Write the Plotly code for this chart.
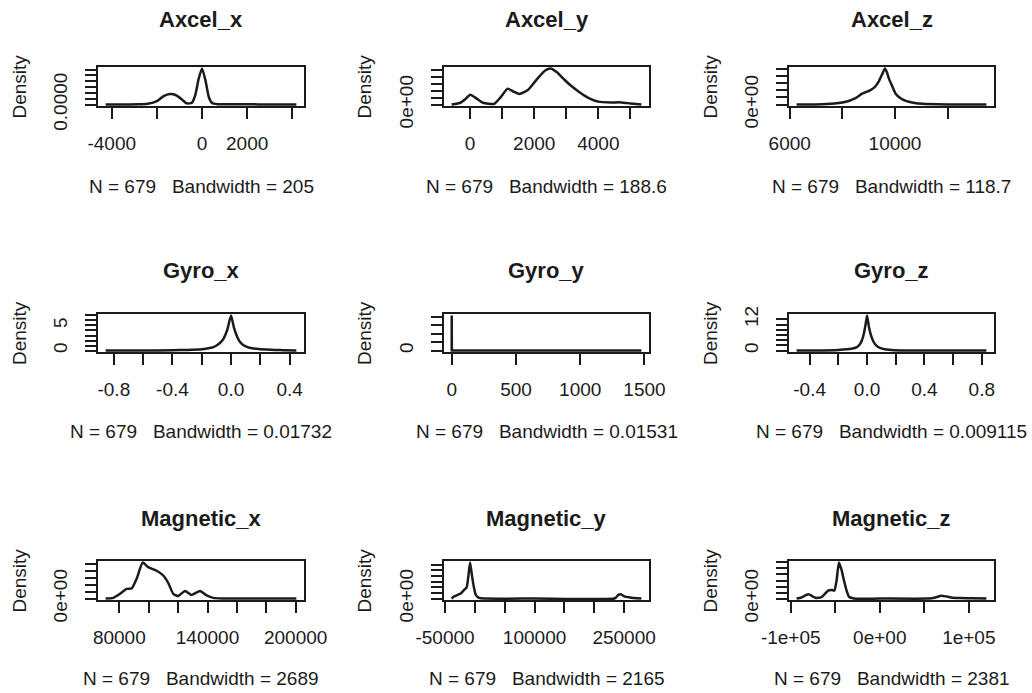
import plotly.graph_objects as go

# ---------------- data ----------------
titles = ["Axcel_x", "Axcel_y", "Axcel_z",
          "Gyro_x", "Gyro_y", "Gyro_z",
          "Magnetic_x", "Magnetic_y", "Magnetic_z"]

bandwidths = ["205", "188.6", "118.7",
              "0.01732", "0.01531", "0.009115",
              "2689", "2165", "2381"]
n_obs = 679

axcel_x_x = [-4270, -3500, -2800, -2400, -2000, -1700, -1420, -1150, -900, -680,
             -450, -300, -150, 0, 150, 300, 450, 700, 1500, 2500, 3500, 4180]
axcel_x_y = [0, 1e-6, 4e-6, 1.5e-5, 6.0e-5, 1.45e-4, 1.8e-4, 1.6e-4, 9.0e-5, 2.0e-5,
             3.0e-5, 1.6e-4, 4.4e-4, 6.2e-4, 4.2e-4, 1.3e-4, 2.5e-5, 6e-6, 4e-6, 3e-6, 1e-6, 0]

axcel_y_x = [-578, -300, -150, 0, 150, 400, 750, 950, 1170, 1350, 1540, 1800, 2100,
             2350, 2510, 2700, 2950, 3150, 3400, 3700, 4000, 4400, 4720, 5000, 5343]
axcel_y_y = [0, 2.6e-5, 7.8e-5, 1.4e-4, 1.04e-4, 2.6e-5, 1.0e-5, 1.04e-4, 2.29e-4, 1.87e-4,
             1.51e-4, 2.08e-4, 3.74e-4, 4.94e-4, 5.2e-4, 4.68e-4, 3.54e-4, 2.7e-4, 1.82e-4,
             9.4e-5, 4.2e-5, 3.1e-5, 3.1e-5, 1.6e-5, 0]

axcel_z_x = [6260, 7000, 7700, 8000, 8240, 8500, 8750, 9070, 9250, 9390, 9520, 9617,
             9700, 9770, 9900, 10025, 10200, 10410, 10700, 11050, 12000, 13475]
axcel_z_y = [0, 5e-6, 3.1e-5, 6.1e-5, 1.02e-4, 1.84e-4, 3.06e-4, 4.08e-4, 5.1e-4, 6.63e-4,
             8.67e-4, 1.02e-3, 8.98e-4, 7.34e-4, 5.1e-4, 3.06e-4, 1.84e-4, 1.02e-4,
             5.1e-5, 2.0e-5, 5e-6, 0]

gyro_x_x = [-0.856, -0.6, -0.4, -0.3, -0.2, -0.164, -0.12, -0.096, -0.07, -0.05, -0.025,
            0.0, 0.02, 0.041, 0.06, 0.086, 0.12, 0.155, 0.2, 0.246, 0.3, 0.36, 0.446]
gyro_x_y = [0, 0.014, 0.07, 0.14, 0.28, 0.42, 0.7, 1.05, 1.68, 2.45, 4.2,
            7.0, 4.55, 2.8, 1.75, 1.05, 0.63, 0.42, 0.28, 0.21, 0.14, 0.07, 0]

gyro_y_x = [-1, -0.1, -0.03, 0.0, 0.03, 0.1, 1, 1476]
gyro_y_y = [0, 0.1, 8.0, 21.0, 8.0, 0.1, 0, 0]

gyro_z_x = [-0.491, -0.35, -0.2, -0.109, -0.07, -0.051, -0.035, -0.021, -0.01, 0.0,
            0.012, 0.026, 0.045, 0.065, 0.09, 0.123, 0.19, 0.38, 0.832]
gyro_z_y = [0, 0.04, 0.27, 0.68, 1.35, 2.3, 4.05, 6.75, 10.1, 13.5,
            9.45, 6.1, 3.4, 1.9, 1.08, 0.54, 0.14, 0.03, 0]

mag_x_x = [70700, 75900, 80500, 85000, 88400, 91800, 95900, 99700, 105400, 109900,
           113300, 116700, 120000, 124700, 129200, 134900, 139400, 143900, 150000,
           170000, 200460]
mag_x_y = [0, 5e-7, 3.4e-6, 7.0e-6, 7.3e-6, 1.43e-5, 2.6e-5, 2.26e-5, 2.0e-5, 1.66e-5,
           1.12e-5, 3.4e-6, 1.8e-6, 5.5e-6, 2.6e-6, 5.5e-6, 2.3e-6, 5e-7, 1e-7,
           3e-8, 0]

mag_y_x = [-39000, -34800, -29000, -23600, -18000, -14000, -11000, -8100, -5000,
           -1500, 1500, 7100, 15500, 100000, 233600, 237000, 240300, 244800, 250400,
           260000, 278960]
mag_y_y = [0, 1.9e-6, 3.2e-6, 4.5e-6, 7.7e-6, 9.6e-6, 1.92e-5, 3.2e-5, 2.08e-5,
           9.6e-6, 3.2e-6, 6e-7, 0, 0, 0, 1.3e-6, 3.2e-6, 3.8e-6, 1.9e-6,
           1.0e-6, 0]

mag_z_x = [-93400, -88000, -84000, -80000, -76000, -72300, -66000, -62000, -58000,
           -54000, -51000, -48500, -45900, -43000, -40200, -37000, -34600, -29000,
           0, 55000, 61300, 65000, 68800, 74500, 80000, 90000, 102700, 119750]
mag_z_y = [0, 9e-7, 2.4e-6, 3.6e-6, 2.1e-6, 6e-7, 9e-7, 3.6e-6, 6.6e-6,
           7.2e-6, 6.6e-6, 1.5e-5, 3.0e-5, 2.4e-5, 1.5e-5, 6e-6, 1.5e-6, 0,
           0, 0, 6e-7, 1.5e-6, 2.4e-6, 1.8e-6, 9e-7, 4.5e-7, 3e-7, 0]

xs = [axcel_x_x, axcel_y_x, axcel_z_x, gyro_x_x, gyro_y_x, gyro_z_x, mag_x_x, mag_y_x, mag_z_x]
ys = [axcel_x_y, axcel_y_y, axcel_z_y, gyro_x_y, gyro_y_y, gyro_z_y, mag_x_y, mag_y_y, mag_z_y]

x_tickvals = [
    [-4000, -2000, 0, 2000, 4000],
    [0, 1000, 2000, 3000, 4000, 5000],
    [6000, 8000, 10000, 12000],
    [-0.8, -0.6, -0.4, -0.2, 0.0, 0.2, 0.4],
    [0, 500, 1000, 1500],
    [-0.4, -0.2, 0.0, 0.2, 0.4, 0.6, 0.8],
    [80000, 100000, 120000, 140000, 160000, 180000, 200000],
    [-50000, 0, 50000, 100000, 150000, 200000, 250000],
    [-100000, -50000, 0, 50000, 100000],
]
x_ticktext = [
    ["-4000", "", "0", "2000", ""],
    ["0", "", "2000", "", "4000", ""],
    ["6000", "", "10000", ""],
    ["-0.8", "", "-0.4", "", "0.0", "", "0.4"],
    ["0", "500", "1000", "1500"],
    ["-0.4", "", "0.0", "", "0.4", "", "0.8"],
    ["80000", "", "", "140000", "", "", "200000"],
    ["-50000", "", "", "100000", "", "", "250000"],
    ["-1e+05", "", "0e+00", "", "1e+05"],
]
y_tickvals = [
    [0, 1e-4, 2e-4, 3e-4, 4e-4, 5e-4, 6e-4],
    [0, 1e-4, 2e-4, 3e-4, 4e-4, 5e-4],
    [0, 2e-4, 4e-4, 6e-4, 8e-4, 1e-3],
    [0, 1, 2, 3, 4, 5, 6, 7],
    [0, 5, 10, 15, 20],
    [0, 2, 4, 6, 8, 10, 12],
    [0, 5e-6, 1e-5, 1.5e-5, 2e-5, 2.5e-5],
    [0, 5e-6, 1e-5, 1.5e-5, 2e-5, 2.5e-5, 3e-5],
    [0, 5e-6, 1e-5, 1.5e-5, 2e-5, 2.5e-5, 3e-5],
]
y_ticktext = [
    ["0.0000", "", "", "", "", "", ""],
    ["0e+00", "", "", "", "", ""],
    ["0e+00", "", "", "", "", ""],
    ["0", "", "", "", "", "5", "", ""],
    ["0", "", "", "", ""],
    ["0", "", "", "", "", "", "12"],
    ["0e+00", "", "", "", "", ""],
    ["0e+00", "", "", "", "", "", ""],
    ["0e+00", "", "", "", "", "", ""],
]

# ---------------- layout geometry (pixels) ----------------
W, H = 1032, 693
col_px = [(98, 304), (444, 649), (789, 994)]
row_px = [(67, 106), (314, 352), (561, 600)]
title_y = [19, 270, 518]
sub_y = [186, 431, 678]
dens_x = [19, 364, 710]

INK = "#1b1b1b"
FONT = "Liberation Sans, Arial, sans-serif"

fig = go.Figure()
layout = dict(width=W, height=H, template="none",
              margin=dict(l=0, r=0, t=0, b=0, pad=0, autoexpand=False),
              paper_bgcolor="white", plot_bgcolor="white", showlegend=False)
annotations = []

for i in range(9):
    r, c = divmod(i, 3)
    sfx = "" if i == 0 else str(i + 1)
    x0, x1 = col_px[c]
    y0, y1 = row_px[r]
    xmin, xmax = min(xs[i]), max(xs[i])
    ymin, ymax = min(ys[i]), max(ys[i])
    dx, dy = xmax - xmin, ymax - ymin

    fig.add_trace(go.Scatter(x=xs[i], y=ys[i], mode="lines",
                             line=dict(color=INK, width=2.5,
                                       shape="linear" if i == 4 else "spline",
                                       smoothing=0.5),
                             xaxis="x" + sfx, yaxis="y" + sfx,
                             hoverinfo="skip"))

    layout["xaxis" + sfx] = dict(
        domain=[x0 / W, x1 / W], anchor="y" + sfx, automargin=False,
        range=[xmin - 0.04 * dx, xmax + 0.04 * dx],
        tickmode="array", tickvals=x_tickvals[i], ticktext=x_ticktext[i],
        ticks="outside", ticklen=11, tickwidth=2, tickcolor=INK,
        showline=True, mirror=True, linewidth=2, linecolor=INK,
        showgrid=False, zeroline=False, tickangle=0,
        tickfont=dict(family=FONT, size=19, color=INK),
        ticklabelstandoff=8,
    )
    layout["yaxis" + sfx] = dict(
        domain=[1 - y1 / H, 1 - y0 / H], anchor="x" + sfx, automargin=False,
        range=[ymin - 0.04 * dy, ymax + 0.04 * dy],
        tickmode="array", tickvals=y_tickvals[i], ticktext=y_ticktext[i],
        ticks="outside", ticklen=11, tickwidth=2, tickcolor=INK,
        showline=True, mirror=True, linewidth=2, linecolor=INK,
        showgrid=False, zeroline=False, tickangle=-90,
        tickfont=dict(family=FONT, size=19, color=INK),
        ticklabelstandoff=10,
    )

    cx = (x0 + x1) / 2 / W
    annotations.append(dict(text="<b>" + titles[i] + "</b>", x=cx, y=1 - title_y[r] / H,
                            xref="paper", yref="paper", xanchor="center", yanchor="middle",
                            showarrow=False, font=dict(family=FONT, size=22, color=INK)))
    annotations.append(dict(text="N = %d\u00a0\u00a0\u00a0Bandwidth = %s" % (n_obs, bandwidths[i]),
                            x=cx, y=1 - sub_y[r] / H,
                            xref="paper", yref="paper", xanchor="center", yanchor="middle",
                            showarrow=False, font=dict(family=FONT, size=19, color=INK)))
    annotations.append(dict(text="Density", x=dens_x[c] / W, y=1 - (y0 + y1) / 2 / H,
                            xref="paper", yref="paper", xanchor="center", yanchor="middle",
                            textangle=-90, showarrow=False,
                            font=dict(family=FONT, size=19, color=INK)))

layout["annotations"] = annotations
fig.update_layout(**layout)

fig.write_html("out.html", config={"displayModeBar": False},
               post_script="document.body.style.margin='0';document.body.style.overflow='hidden';")
